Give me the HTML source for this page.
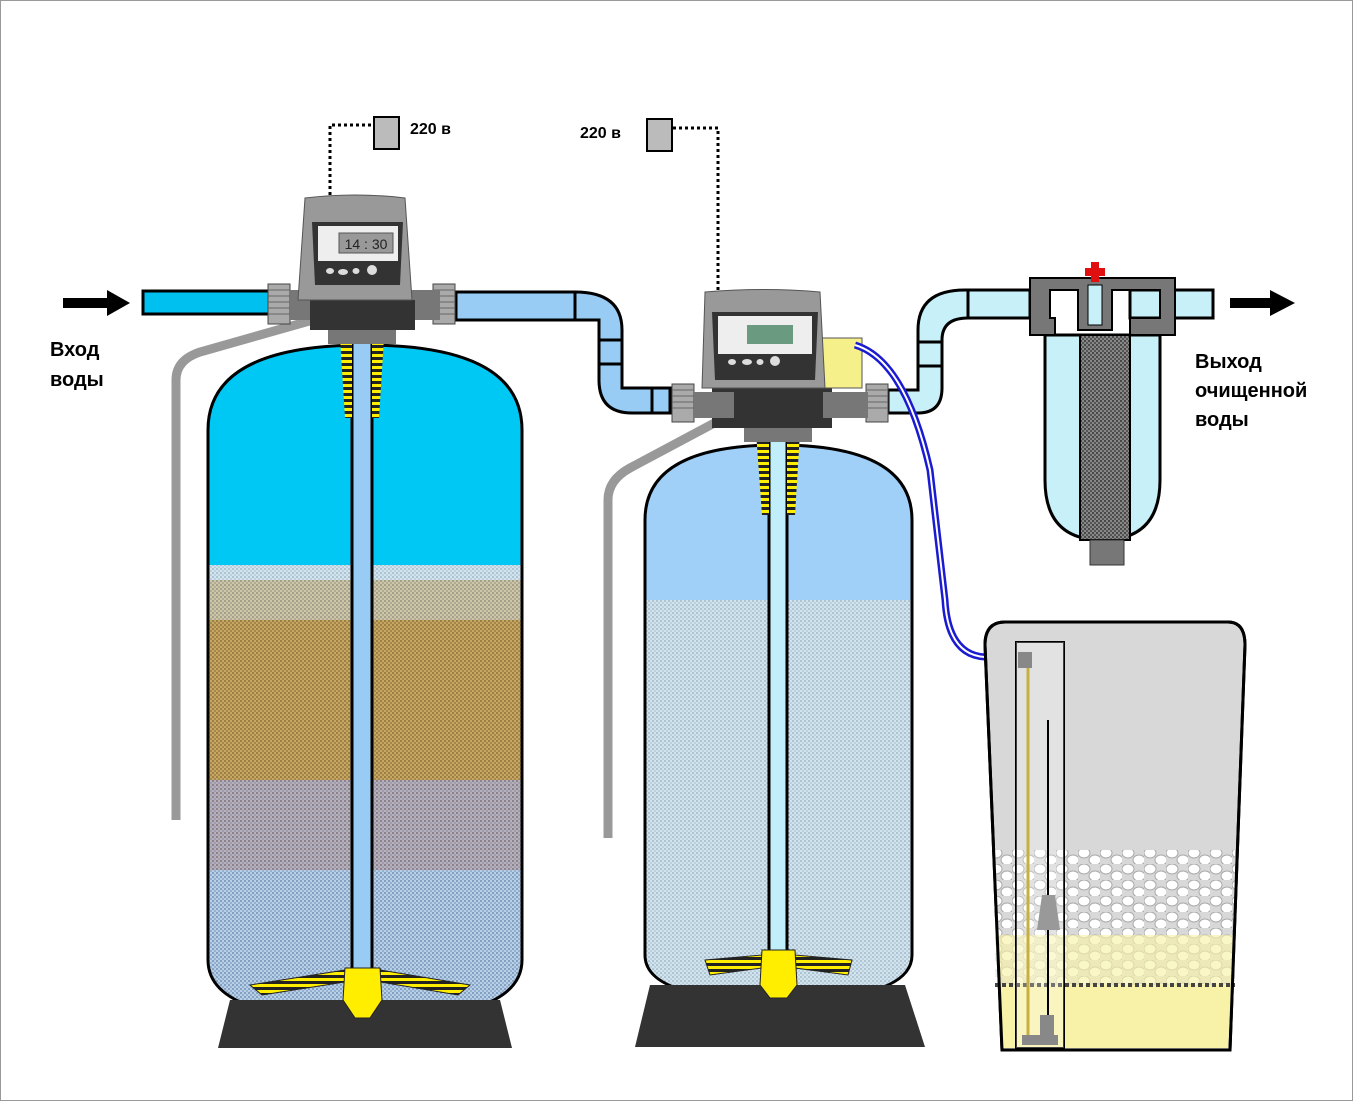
<!DOCTYPE html>
<html><head><meta charset="utf-8"><style>
html,body{margin:0;padding:0;background:#fff}
svg{display:block}
text{font-family:"Liberation Sans",sans-serif;font-weight:bold}
</style></head><body>
<svg width="1353" height="1101" viewBox="0 0 1353 1101" xmlns="http://www.w3.org/2000/svg">
<defs>
<pattern id="dotB" width="4" height="4" patternUnits="userSpaceOnUse"><rect width="4" height="4" fill="#b8cfe6"/><circle cx="1" cy="1" r="0.9" fill="#5a7fa8"/><circle cx="3" cy="3" r="0.9" fill="#7a9ac0"/></pattern>
<pattern id="dotBr" width="4" height="4" patternUnits="userSpaceOnUse"><rect width="4" height="4" fill="#c8a860"/><circle cx="1" cy="1" r="0.9" fill="#7a6030"/><circle cx="3" cy="3" r="0.9" fill="#8a7040"/></pattern>
<pattern id="dotM" width="4" height="4" patternUnits="userSpaceOnUse"><rect width="4" height="4" fill="#b8b0b8"/><circle cx="1" cy="1" r="0.9" fill="#6a6070"/><circle cx="3" cy="3" r="0.9" fill="#8a90a8"/></pattern>
<pattern id="dotP" width="4" height="4" patternUnits="userSpaceOnUse"><rect width="4" height="4" fill="#d4e4ee"/><circle cx="1" cy="1" r="0.8" fill="#7a9ab0"/><circle cx="3" cy="3" r="0.8" fill="#9ab8c8"/></pattern>
<pattern id="dotC" width="4" height="4" patternUnits="userSpaceOnUse"><rect width="4" height="4" fill="#888"/><circle cx="1" cy="1" r="1" fill="#333"/><circle cx="3" cy="3" r="1" fill="#444"/></pattern>
<pattern id="hatch" width="8" height="6" patternUnits="userSpaceOnUse"><rect width="8" height="6" fill="#ffee00"/><rect y="3" width="8" height="3" fill="#222"/></pattern>
<pattern id="salt" width="22" height="16" patternUnits="userSpaceOnUse"><rect width="22" height="16" fill="#d8d8d8"/><ellipse cx="6" cy="5" rx="6" ry="5" fill="#fff" stroke="#aaa"/><ellipse cx="17" cy="12" rx="6" ry="5" fill="#fff" stroke="#aaa"/></pattern>
<clipPath id="t1"><path d="M208,430 Q208,345 365,345 Q522,345 522,430 L522,960 Q522,1020 365,1020 Q208,1020 208,960 Z"/></clipPath>
<clipPath id="t2"><path d="M645,520 Q645,445 778,445 Q912,445 912,520 L912,955 Q912,1000 778,1000 Q645,1000 645,955 Z"/></clipPath>
<linearGradient id="g1" x1="0" y1="0" x2="0" y2="1"><stop offset="0" stop-color="#00c8f4" stop-opacity="0"/><stop offset="1" stop-color="#00c8f4" stop-opacity="0"/></linearGradient>
</defs>
<rect x="0.5" y="0.5" width="1352" height="1100" fill="#fff" stroke="#999"/>

<!-- gray drain pipes -->
<path d="M176,820 L176,380 Q176,360 200,352 L320,318" fill="none" stroke="#999" stroke-width="9"/>
<path d="M608,838 L608,500 Q608,480 630,468 L735,412" fill="none" stroke="#999" stroke-width="9"/>

<!-- left tank -->
<g clip-path="url(#t1)">
<rect x="200" y="340" width="330" height="690" fill="url(#dotB)"/>
<rect x="200" y="340" width="330" height="225" fill="#00c8f4"/>
<rect x="200" y="565" width="330" height="55" fill="url(#dotP)"/>
<rect x="200" y="580" width="330" height="40" fill="url(#dotBr)" opacity="0.5"/>
<rect x="200" y="620" width="330" height="160" fill="url(#dotBr)"/>
<rect x="200" y="780" width="330" height="90" fill="url(#dotM)"/>
</g>
<path d="M208,430 Q208,345 365,345 Q522,345 522,430 L522,960 Q522,1020 365,1020 Q208,1020 208,960 Z" fill="none" stroke="#000" stroke-width="3"/>
<path d="M230,1000 L500,1000 L512,1048 L218,1048 Z" fill="#333"/>
<rect x="352" y="340" width="20" height="640" fill="#99ccf5" stroke="#000" stroke-width="3"/>
<path d="M340,338 L352,338 L352,418 L345,418 Z" fill="url(#hatch)"/>
<path d="M372,338 L384,338 L379,418 L372,418 Z" fill="url(#hatch)"/>
<rect x="328" y="330" width="68" height="14" fill="#777"/>
<path d="M250,985 L345,970 L345,982 L262,995 Z" fill="url(#hatch)" stroke="#222"/>
<path d="M470,985 L380,970 L380,982 L458,995 Z" fill="url(#hatch)" stroke="#222"/>
<path d="M345,968 L380,968 L382,1000 L370,1018 L355,1018 L343,1000 Z" fill="#ffee00" stroke="#222"/>

<!-- middle tank -->
<g clip-path="url(#t2)">
<rect x="640" y="440" width="280" height="570" fill="url(#dotP)"/>
<rect x="640" y="440" width="280" height="160" fill="#a0d0f8"/>
</g>
<path d="M645,520 Q645,445 778,445 Q912,445 912,520 L912,955 Q912,1000 778,1000 Q645,1000 645,955 Z" fill="none" stroke="#000" stroke-width="3"/>
<path d="M650,985 L905,985 L925,1047 L635,1047 Z" fill="#333"/>
<rect x="769" y="430" width="18" height="530" fill="#c0eefa" stroke="#000" stroke-width="3"/>
<path d="M756,432 L769,432 L769,515 L762,515 Z" fill="url(#hatch)"/>
<path d="M787,432 L800,432 L795,515 L787,515 Z" fill="url(#hatch)"/>
<rect x="744" y="428" width="68" height="14" fill="#777"/>
<path d="M705,960 L762,955 L762,968 L710,975 Z" fill="url(#hatch)" stroke="#222"/>
<path d="M852,960 L795,955 L795,968 L848,975 Z" fill="url(#hatch)" stroke="#222"/>
<path d="M762,950 L795,950 L797,985 L787,998 L770,998 L760,985 Z" fill="#ffee00" stroke="#222"/>

<!-- pipes -->
<rect x="143" y="291" width="127" height="23" fill="#00c0f0" stroke="#000" stroke-width="3"/>
<path d="M456,292 L575,292 Q622,292 622,330 L622,388 L670,388 L670,413 L632,413 Q599,413 599,380 L599,320 L575,320 Q575,320 456,320 Z" fill="#99ccf5" stroke="#000" stroke-width="3"/>
<line x1="575" y1="292" x2="575" y2="320" stroke="#000" stroke-width="3"/>
<line x1="599" y1="340" x2="622" y2="340" stroke="#000" stroke-width="3"/>
<line x1="599" y1="364" x2="622" y2="364" stroke="#000" stroke-width="3"/>
<line x1="652" y1="388" x2="652" y2="414" stroke="#000" stroke-width="3"/>
<path d="M888,390 L918,390 L918,330 Q918,290 965,290 L1030,290 L1030,318 L968,318 Q942,318 942,340 L942,388 Q942,413 918,413 L888,413 Z" fill="#c8f0f8" stroke="#000" stroke-width="3"/>
<line x1="918" y1="342" x2="942" y2="342" stroke="#000" stroke-width="3"/>
<line x1="918" y1="366" x2="942" y2="366" stroke="#000" stroke-width="3"/>
<line x1="968" y1="290" x2="968" y2="318" stroke="#000" stroke-width="3"/>
<rect x="1130" y="290" width="83" height="28" fill="#c8f0f8" stroke="#000" stroke-width="3"/>

<!-- fittings -->
<g fill="#aaa" stroke="#444">
<rect x="268" y="284" width="22" height="40"/><rect x="433" y="284" width="22" height="40"/>
<rect x="672" y="384" width="22" height="38"/><rect x="866" y="384" width="22" height="38"/>
</g>
<g stroke="#666" stroke-width="1"><path d="M268,290H290M268,296H290M268,302H290M268,308H290M268,314H290M433,290H455M433,296H455M433,302H455M433,308H455M433,314H455M672,390H694M672,396H694M672,402H694M672,408H694M866,390H888M866,396H888M866,402H888M866,408H888"/></g>

<!-- left head -->
<rect x="290" y="290" width="150" height="30" fill="#777"/>
<rect x="310" y="300" width="105" height="30" fill="#333"/>
<path d="M305,198 Q355,192 405,198 L412,300 L298,300 Z" fill="#999" stroke="#555"/>
<path d="M312,222 L403,222 L400,285 L315,285 Z" fill="#333"/>
<rect x="318" y="226" width="80" height="35" fill="#eee"/>
<rect x="339" y="233" width="54" height="20" fill="#999" stroke="#555"/>
<text x="366" y="249" font-size="14" font-weight="normal" text-anchor="middle" fill="#222" style="font-weight:normal">14 : 30</text>
<g fill="#ddd"><ellipse cx="330" cy="271" rx="4" ry="3"/><ellipse cx="343" cy="272" rx="5" ry="3"/><ellipse cx="356" cy="271" rx="3.5" ry="3"/><circle cx="372" cy="270" r="5"/></g>

<!-- middle head -->
<rect x="712" y="388" width="120" height="40" fill="#333"/>
<rect x="694" y="392" width="40" height="26" fill="#777"/><rect x="823" y="392" width="45" height="26" fill="#777"/>
<rect x="820" y="338" width="42" height="50" fill="#f5f08a" stroke="#555"/>
<path d="M705,292 Q765,287 820,292 L825,388 L702,388 Z" fill="#999" stroke="#555"/>
<path d="M712,312 L818,312 L815,380 L715,380 Z" fill="#333"/>
<rect x="718" y="316" width="94" height="38" fill="#eee"/>
<rect x="747" y="325" width="46" height="19" fill="#6a9a80"/>
<g fill="#ddd"><ellipse cx="732" cy="362" rx="4" ry="3"/><ellipse cx="747" cy="362" rx="5" ry="3"/><ellipse cx="760" cy="362" rx="3.5" ry="3"/><circle cx="775" cy="361" r="5"/></g>

<!-- power -->
<path d="M330,195 L330,125 L373,125 M673,128 L718,128 L718,290" fill="none" stroke="#000" stroke-width="3" stroke-dasharray="3,3"/>
<rect x="374" y="117" width="25" height="32" fill="#bbb" stroke="#000" stroke-width="2"/>
<rect x="647" y="119" width="25" height="32" fill="#bbb" stroke="#000" stroke-width="2"/>
<text x="410" y="134" font-size="16">220 в</text>
<text x="580" y="138" font-size="16">220 в</text>

<!-- arrows / labels -->
<path d="M63,298 L107,298 L107,290 L130,303 L107,316 L107,308 L63,308 Z" fill="#000"/>
<path d="M1230,298 L1270,298 L1270,290 L1295,303 L1270,316 L1270,308 L1230,308 Z" fill="#000"/>
<text x="50" y="356" font-size="20">Вход</text>
<text x="50" y="386" font-size="20">воды</text>
<text x="1195" y="368" font-size="20">Выход</text>
<text x="1195" y="397" font-size="20">очищенной</text>
<text x="1195" y="426" font-size="20">воды</text>

<!-- brine line -->
<path d="M855,345 Q905,360 930,470 L945,600 Q948,655 985,657 L1020,657" fill="none" stroke="#1a1ad0" stroke-width="7"/>
<path d="M855,345 Q905,360 930,470 L945,600 Q948,655 985,657 L1020,657" fill="none" stroke="#fff" stroke-width="2"/>

<!-- filter -->
<path d="M1045,335 L1160,335 L1160,480 Q1160,540 1102,540 Q1045,540 1045,480 Z" fill="#c8f0f8" stroke="#000" stroke-width="3"/>
<rect x="1080" y="335" width="50" height="205" fill="url(#dotC)" stroke="#000" stroke-width="2"/>
<path d="M1030,278 L1175,278 L1175,335 L1130,335 L1130,318 L1160,318 L1160,290 L1112,290 L1112,330 L1078,330 L1078,290 L1050,290 L1050,318 L1055,318 L1055,335 L1030,335 Z" fill="#777" stroke="#000" stroke-width="2"/>
<rect x="1088" y="285" width="14" height="40" fill="#c8f0f8" stroke="#000"/>
<path d="M1091,262h8v6h6v8h-6v6h-8v-6h-6v-8h6z" fill="#e01010"/>
<rect x="1090" y="540" width="34" height="25" fill="#777" stroke="#333"/>

<!-- brine tank -->
<path d="M985,645 Q985,622 1005,622 L1228,622 Q1245,622 1245,645 L1230,1050 L1002,1050 Z" fill="#d8d8d8" stroke="#000" stroke-width="3"/>
<rect x="995" y="850" width="240" height="85" fill="url(#salt)"/>
<path d="M995,935 L1235,935 L1228,1048 L1003,1048 Z" fill="#f8f2a8"/>
<rect x="995" y="935" width="240" height="50" fill="url(#salt)" opacity="0.35"/>
<line x1="995" y1="985" x2="1235" y2="985" stroke="#444" stroke-width="4" stroke-dasharray="4,3"/>
<path d="M985,645 Q985,622 1005,622 L1228,622 Q1245,622 1245,645 L1230,1050 L1002,1050 Z" fill="none" stroke="#000" stroke-width="3"/>
<rect x="1016" y="642" width="48" height="406" fill="none" stroke="#000" stroke-width="2"/>
<rect x="1016" y="642" width="48" height="406" fill="#fff" opacity="0.25"/>
<line x1="1028" y1="665" x2="1028" y2="1040" stroke="#c8b040" stroke-width="3"/>
<line x1="1048" y1="720" x2="1048" y2="1020" stroke="#000" stroke-width="2"/>
<path d="M1042,895 L1055,895 L1060,930 L1037,930 Z" fill="#999"/>
<rect x="1018" y="652" width="14" height="16" fill="#888"/>
<rect x="1022" y="1035" width="36" height="10" fill="#888"/>
<rect x="1040" y="1015" width="14" height="22" fill="#888"/>
</svg>
</body></html>
